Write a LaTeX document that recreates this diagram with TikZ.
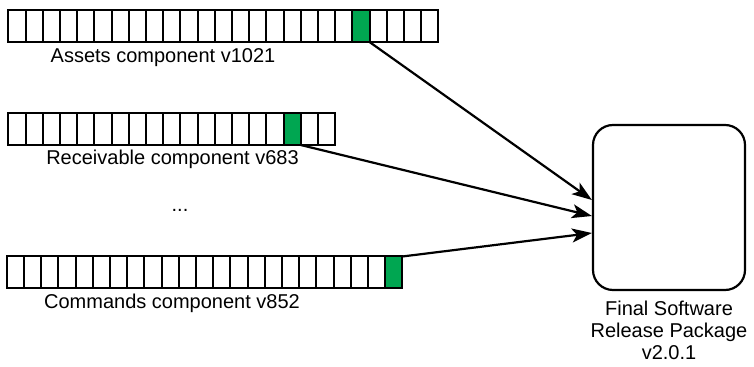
\documentclass[tikz,border=0pt]{standalone}
\usepackage{fontspec}
\setmainfont{Liberation Sans}
\usetikzlibrary{positioning,arrows.meta}
\definecolor{relgreen}{RGB}{0,166,81}

\begin{document}
\begin{tikzpicture}[x=0.5pt,y=-0.5pt,
    cell/.style={draw, line width=1pt, minimum width=8.6pt, minimum height=16pt, inner sep=0pt, outer sep=0pt},
    lbl/.style={font=\fontsize{10}{11}\selectfont, inner sep=0pt},
    feed/.style={line width=1.1pt, -{Stealth[length=10pt,width=7pt,inset=2.5pt]}}]
  \useasboundingbox (0,0) rectangle (754,367);

  % component bars, one cell per build
  \foreach \i in {1,...,25}{
    \ifnum\i=21 \def\cf{relgreen}\else\def\cf{white}\fi
    \node[cell, fill=\cf] (as\i) at ({8.3+17.2*(\i-0.5)},26) {};
  }
  \foreach \i in {1,...,19}{
    \ifnum\i=17 \def\cf{relgreen}\else\def\cf{white}\fi
    \node[cell, fill=\cf] (rv\i) at ({8.3+17.2*(\i-0.5)},129) {};
  }
  \foreach \i in {1,...,23}{
    \ifnum\i=23 \def\cf{relgreen}\else\def\cf{white}\fi
    \node[cell, fill=\cf] (cm\i) at ({6.7+17.2*(\i-0.5)},272.5) {};
  }

  \node[lbl] (aslbl) at (163,58) {Assets component v1021};
  \node[lbl] (rvlbl) at (172.5,159) {Receivable component v683};
  \node[lbl] (dots) at (180,210) {...};
  \node[lbl] (cmlbl) at (172,303) {Commands component v852};

  % release package
  \node[draw, line width=1.1pt, rounded corners=10pt, minimum width=76pt, minimum height=82.5pt] (pkg) at (669,207.5) {};
  \node[lbl, below=5pt of pkg, align=center] (pkglbl) {Final Software\\Release Package\\v2.0.1};

  \draw[feed] (as21.south east) -- ([yshift=3.75pt]pkg.west);
  \draw[feed] (rv17.south east) -- ([yshift=-4.25pt]pkg.west);
  \draw[feed] (cm23.north east) -- ([yshift=-12.75pt]pkg.west);
\end{tikzpicture}
\end{document}
